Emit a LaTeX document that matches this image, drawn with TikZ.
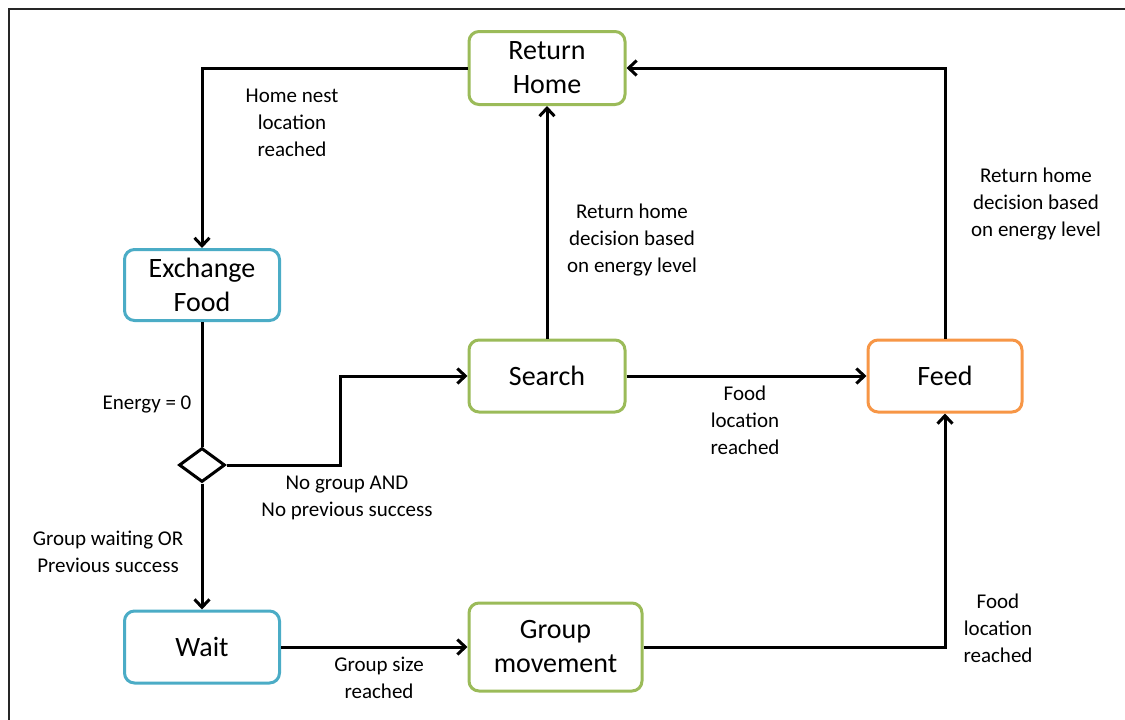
\documentclass[tikz,border=0pt]{standalone}
\usepackage{fontspec}
\setmainfont{Carlito}
\usetikzlibrary{arrows.meta,shapes.geometric}
\definecolor{cgreen}{HTML}{9BBB59}
\definecolor{cblue}{HTML}{4BACC6}
\definecolor{corange}{HTML}{F79646}
\tikzset{
  state/.style={draw, line width=3pt, rounded corners=10pt, fill=white, align=center,
    font=\fontsize{28}{34}\selectfont, inner sep=0pt},
  lbl/.style={align=center, font=\fontsize{21}{27}\selectfont, inner sep=0pt},
  conn/.style={line width=3pt, -{Straight Barb[length=8pt,width=15pt,line width=3pt]}},
  plain/.style={line width=3pt}
}
\begin{document}
\begin{tikzpicture}[x=1pt,y=-1pt]
\useasboundingbox (0,0) rectangle (1125,720);
\draw[line width=2pt, black!85] (9,722) -- (9,9) -- (1127,9);
% states
\node[state, draw=cgreen, minimum width=156pt, minimum height=73pt] (rh) at (547,68) {Return\\Home};
\node[state, draw=cblue, minimum width=155pt, minimum height=71pt] (ef) at (202,285) {Exchange\\Food};
\node[state, draw=cgreen, minimum width=156pt, minimum height=72pt] (search) at (547,376) {Search};
\node[state, draw=corange, minimum width=154pt, minimum height=72pt] (feed) at (945,376) {Feed};
\node[state, draw=cblue, minimum width=155pt, minimum height=72pt] (wait) at (202,647) {Wait};
\node[state, draw=cgreen, minimum width=173pt, minimum height=88pt] (gm) at (555.5,647) {Group\\movement};
\node[diamond, draw, line width=3pt, fill=white, inner sep=0pt, minimum width=46pt, minimum height=34pt] (dia) at (202,465) {};
\coordinate (k1) at (340,465);
% connectors
\draw[conn] (rh.west) -| (ef.north);
\draw[plain] (ef.south) -- (dia.north);
\draw[conn] (dia.east) -- (k1) |- (search.west);
\draw[conn] (dia.south) -- (wait.north);
\draw[conn] (wait.east) -- (gm.west);
\draw[conn] (gm.east) -| (feed.south);
\draw[conn] (search.east) -- (feed.west);
\draw[conn] (search.north) -- (rh.south);
\draw[conn] (feed.north) |- (rh.east);
% labels
\node[lbl] (l1) at (292,123) {Home nest\\location\\reached};
\node[lbl] (l2) at (147,404) {Energy = 0};
\node[lbl] (l3) at (347,498) {No group AND\\No previous success};
\node[lbl] (l4) at (108,552) {Group waiting OR\\Previous success};
\node[lbl] (l5) at (379,678) {Group size\\reached};
\node[lbl] (l6) at (998,628) {Food\\location\\reached};
\node[lbl] (l7) at (745,420) {Food\\location\\reached};
\node[lbl] (l8) at (632,240) {Return home\\decision based\\on energy level};
\node[lbl] (l9) at (1036,204) {Return home\\decision based\\on energy level};
\end{tikzpicture}
\end{document}
